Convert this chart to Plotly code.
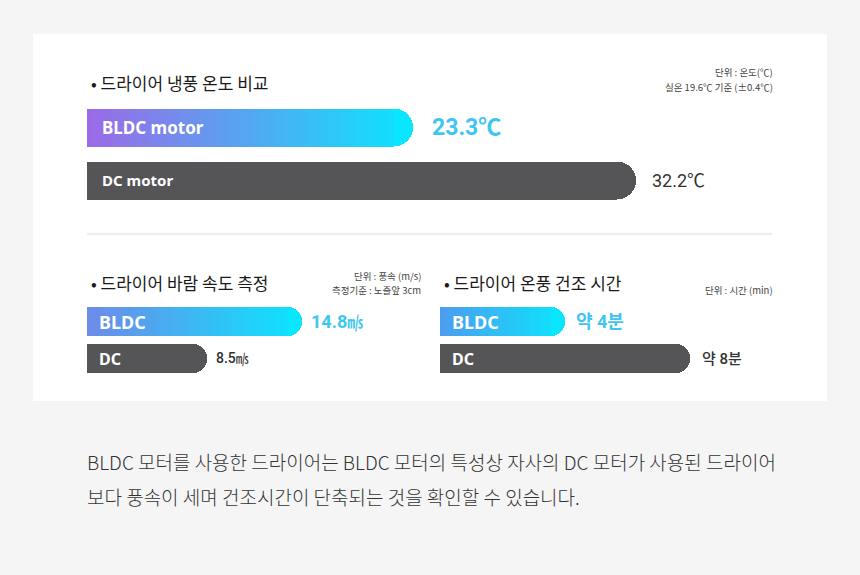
import plotly.graph_objects as go

W, H = 860, 575

# ---------------- data ----------------
series = ["BLDC", "DC"]

temp_names = ["BLDC motor", "DC motor"]
temp_values = [23.3, 32.2]
temp_text = ["23.3℃", "32.2℃"]

speed_names = ["BLDC", "DC"]
speed_values = [14.8, 8.5]
speed_text = ["14.8", "8.5"]
speed_unit = "㎧"

time_names = ["BLDC", "DC"]
time_values = [4, 8]
time_text = ["약 4분", "약 8분"]

titles = ["• 드라이어 냉풍 온도 비교", "• 드라이어 바람 속도 측정", "• 드라이어 온풍 건조 시간"]
caption = ["BLDC 모터를 사용한 드라이어는 BLDC 모터의 특성상 자사의 DC 모터가 사용된 드라이어",
           "보다 풍속이 세며 건조시간이 단축되는 것을 확인할 수 있습니다."]

KR = "Noto Sans CJK KR"
NUM = "Roboto"
LAT = "Noto Sans"
DARK_BAR = "#555557"
CYAN = "#0ae6fe"
CYAN_TXT = "#3ec6f1"


def X(px):
    return px / W


def Y(py):
    return 1 - py / H


def hex2rgb(h):
    h = h.lstrip("#")
    return [int(h[i:i + 2], 16) for i in (0, 2, 4)]


def lerp(c1, c2, t):
    a, b = hex2rgb(c1), hex2rgb(c2)
    return "rgb(%d,%d,%d)" % tuple(round(a[i] + (b[i] - a[i]) * t) for i in range(3))


panels = [
    dict(ax="", names=temp_names, values=temp_values, texts=temp_text, unit="",
         xdom=(87, 787), ydom=(100.5, 206.5), xr=(10.29, 10.29 + 700 / 25.06),
         width=0.717, radius=19, left="#9c69e6",
         name_sizes=(17, 15), name_shift=13, val_sizes=(23, 18), val_shift=(17, 14), val_bold=(True, False)),
    dict(ax="2", names=speed_names, values=speed_values, texts=speed_text, unit=speed_unit,
         xdom=(87, 427), ydom=(303, 377), xr=(0.54, 0.54 + 340 / 15.08),
         width=0.784, radius=14, left="#6e8ae8",
         name_sizes=(18, 16), name_shift=10, val_sizes=(18, 14), val_shift=(7, 7), val_bold=(True, False)),
    dict(ax="3", names=time_names, values=time_values, texts=time_text, unit="",
         xdom=(440, 780), ydom=(303, 377), xr=(0, 340 / 31.25),
         width=0.784, radius=14, left="#4d9cee",
         name_sizes=(18, 16), name_shift=10, val_sizes=(18, 15), val_shift=(9, 10), val_bold=(True, False)),
]

fig = go.Figure()
annotations = []
layout_axes = {}
N = 50

for p in panels:
    xa, ya = "x" + p["ax"], "y" + p["ax"]
    s, e = p["xr"]
    k = (p["xdom"][1] - p["xdom"][0]) / (e - s)
    r_data = p["radius"] / k
    cats = list(reversed(series))  # DC bottom, BLDC top

    # gradient bar (BLDC): full-length cyan rounded bar, then overlaid slices
    v = p["values"][0]
    fig.add_trace(go.Bar(x=[v], y=[series[0]], orientation="h", xaxis=xa, yaxis=ya,
                         width=p["width"], marker=dict(color=CYAN, cornerradius=p["radius"], line=dict(width=0)),
                         hoverinfo="skip", showlegend=False))
    Eg = v - r_data
    for j in range(N):
        end = s + (Eg - s) * (1 - j / N)
        start = s + (Eg - s) * (1 - (j + 1) / N)
        t = ((end + start) / 2 - s) / (v - s)
        fig.add_trace(go.Bar(x=[end], y=[series[0]], orientation="h", xaxis=xa, yaxis=ya,
                             width=p["width"], marker=dict(color=lerp(p["left"], CYAN, t), line=dict(width=0)),
                             hoverinfo="skip", showlegend=False))
    # dark bar (DC)
    fig.add_trace(go.Bar(x=[p["values"][1]], y=[series[1]], orientation="h", xaxis=xa, yaxis=ya,
                         width=p["width"], marker=dict(color=DARK_BAR, cornerradius=p["radius"], line=dict(width=0)),
                         hoverinfo="skip", showlegend=False))

    key = p["ax"]
    layout_axes["xaxis" + key] = dict(domain=[X(p["xdom"][0]), X(p["xdom"][1])], range=list(p["xr"]),
                                      visible=False, fixedrange=True, anchor=ya)
    layout_axes["yaxis" + key] = dict(domain=[Y(p["ydom"][1]), Y(p["ydom"][0])], type="category",
                                      categoryorder="array", categoryarray=cats, range=[-0.5, 1.5],
                                      visible=False, fixedrange=True, anchor=xa)

    for i, name in enumerate(series):
        yi = cats.index(name)
        annotations.append(dict(xref=xa, yref=ya, x=s, y=yi, xanchor="left", yanchor="middle",
                                xshift=p["name_shift"], showarrow=False, text="<b>%s</b>" % p["names"][i],
                                font=dict(family=LAT, size=p["name_sizes"][i], color="white")))
        txt = p["texts"][i]
        if p["unit"]:
            txt = txt + '<span style="font-size:%dpx">%s</span>' % (round(p["val_sizes"][i] * 0.9), p["unit"])
        if p["val_bold"][i]:
            txt = "<b>%s</b>" % txt
        col = CYAN_TXT if i == 0 else "#333333"
        f = dict(family=NUM + ", " + KR, size=p["val_sizes"][i], color=col)
        if i == 1 and p["ax"] != "":
            f["weight"] = 500
        annotations.append(dict(xref=xa, yref=ya, x=p["values"][i], y=yi, xanchor="left", yanchor="middle",
                                xshift=p["val_shift"][i], showarrow=False, text=txt, font=f))


def paper_text(text, px, py, size, color="#222222", anchor="left", family=KR, weight=None):
    f = dict(family=family, size=size, color=color)
    if weight:
        f["weight"] = weight
    annotations.append(dict(xref="paper", yref="paper", x=X(px), y=Y(py), xanchor=anchor, yanchor="middle",
                            showarrow=False, text=text, font=f))


# titles
paper_text(titles[0], 89, 82.5, 17, "#1a1a1a", weight=400)
paper_text(titles[1], 89, 282.5, 17, "#1a1a1a", weight=400)
paper_text(titles[2], 442, 282.5, 17, "#1a1a1a", weight=400)

# unit notes
paper_text("단위 : 온도(℃)", 775, 72.5, 9.5, "#444444", "right")
paper_text("실온 19.6℃ 기준 (±0.4℃)", 775, 87, 9.5, "#444444", "right")
paper_text("단위 : 풍속 (m/s)", 423, 276, 9.5, "#444444", "right")
paper_text("측정기준 : 노즐앞 3cm", 423, 290, 9.5, "#444444", "right")
paper_text("단위 : 시간 (min)", 775, 290, 9.5, "#444444", "right")

# caption
paper_text(caption[0], 85, 461, 19, "#333333", weight=300)
paper_text(caption[1], 85, 496, 19, "#333333", weight=300)

shapes = [
    dict(type="rect", xref="paper", yref="paper", x0=X(33), x1=X(827), y0=Y(401), y1=Y(34),
         fillcolor="white", line=dict(width=0), layer="below"),
    dict(type="line", xref="paper", yref="paper", x0=X(87), x1=X(772), y0=Y(234), y1=Y(234),
         line=dict(color="#dddddd", width=1), layer="below"),
]

fig.update_layout(
    width=W, height=H, margin=dict(l=0, r=0, t=0, b=0),
    paper_bgcolor="#f5f5f5", plot_bgcolor="rgba(0,0,0,0)",
    barmode="overlay", bargap=0, showlegend=False,
    annotations=annotations, shapes=shapes,
    **layout_axes,
)

fig.write_html("out.html", config={"displayModeBar": False})
